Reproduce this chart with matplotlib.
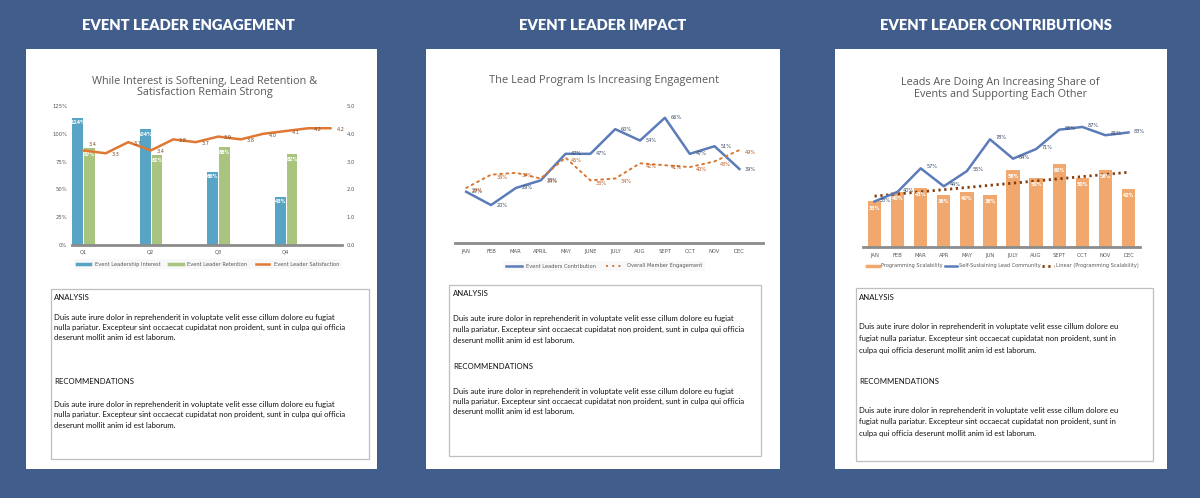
import matplotlib.pyplot as plt
import numpy as np
from matplotlib.patches import Rectangle
from matplotlib.lines import Line2D

W, H = 1200, 498

# panel 1 - engagement
quarters = ['Q1', 'Q2', 'Q3', 'Q4']
interest = [114, 104, 66, 43]
retention = [87, 81, 88, 82]
satisfaction = [3.4, 3.3, 3.7, 3.4, 3.8, 3.7, 3.9, 3.8, 4.0, 4.1, 4.2, 4.2]

# panel 2 - impact
months_impact = ['JAN', 'FEB', 'MAR', 'APRIL', 'MAY', 'JUNE', 'JULY', 'AUG', 'SEPT', 'OCT', 'NOV', 'DEC']
leader_contrib = [27, 20, 29, 33, 47, 47, 60, 54, 66, 47, 51, 39]
member_engage = [29, 36, 37, 34, 45, 33, 34, 42, 41, 40, 43, 49]

# panel 3 - contributions
months_contrib = ['JAN', 'FEB', 'MAR', 'APR', 'MAY', 'JUN', 'JULY', 'AUG', 'SEPT', 'OCT', 'NOV', 'DEC']
prog_scal = [33, 40, 43, 38, 40, 38, 56, 50, 60, 50, 56, 42]
lead_comm = [33, 40, 57, 44, 55, 78, 64, 71, 85, 87, 81, 83]

headers = ['EVENT LEADER ENGAGEMENT', 'EVENT LEADER IMPACT', 'EVENT LEADER CONTRIBUTIONS']

para_1 = ['Duis aute irure dolor in reprehenderit in voluptate velit esse cillum dolore eu fugiat',
          'nulla pariatur. Excepteur sint occaecat cupidatat non proident, sunt in culpa qui officia',
          'deserunt mollit anim id est laborum.']
para_3 = ['Duis aute irure dolor in reprehenderit in voluptate velit esse cillum dolore eu',
          'fugiat nulla pariatur. Excepteur sint occaecat cupidatat non proident, sunt in',
          'culpa qui officia deserunt mollit anim id est laborum.']

bg = '#405d8c'
c_blue = '#58a4c4'
c_green = '#a9c47f'
c_orange = '#e07834'
c_line = '#5b7cb8'
c_dot = '#d9772f'
c_bar3 = '#f0a86e'
c_trend = '#843c0c'
gray = '#595959'


def rect(x0, y0, x1, y1):
    return [x0 / W, 1 - y1 / H, (x1 - x0) / W, (y1 - y0) / H]


def fx(x):
    return x / W


def fy(y):
    return 1 - y / H


fig = plt.figure(figsize=(12, 4.98), dpi=100, facecolor=bg)

# white panels + text boxes
panels = [(26, 49, 377, 469), (426, 49, 780, 469), (835, 49, 1167, 469)]
boxes = [(51, 289, 369, 459), (449, 285, 761, 456), (856, 288, 1153, 461)]
for (x0, y0, x1, y1) in panels:
    fig.add_artist(Rectangle((fx(x0), fy(y1)), (x1 - x0) / W, (y1 - y0) / H,
                             transform=fig.transFigure, fc='white', ec='none', zorder=0))
for (x0, y0, x1, y1) in boxes:
    fig.add_artist(Rectangle((fx(x0), fy(y1)), (x1 - x0) / W, (y1 - y0) / H,
                             transform=fig.transFigure, fc='white', ec='#bfbfbf', lw=0.9, zorder=1))

for hx, s in zip([188, 603, 996], headers):
    fig.text(fx(hx), fy(26), s, ha='center', va='center', color='white',
             fontsize=10.6, fontweight='heavy', family='Lato')


def text_block(x, ys, lines):
    for y, s in zip(ys, lines):
        fig.text(fx(x), fy(y), s, fontsize=5.6, family='Lato', va='center', color='#111111')


text_block(54, [297], ['ANALYSIS'])
text_block(54, [317, 327.5, 338], para_1)
text_block(54, [381], ['RECOMMENDATIONS'])
text_block(54, [404, 414.5, 425], para_1)

text_block(453, [293], ['ANALYSIS'])
text_block(453, [319, 329.5, 340], para_1)
text_block(453, [366], ['RECOMMENDATIONS'])
text_block(453, [391, 401.5, 412], para_1)

text_block(859, [298], ['ANALYSIS'])
text_block(859, [327, 338.5, 350], para_3)
text_block(859, [381], ['RECOMMENDATIONS'])
text_block(859, [410, 421.5, 433], para_3)


def clean(ax):
    for s in ['top', 'right', 'left']:
        ax.spines[s].set_visible(False)
    ax.spines['bottom'].set_color('#8c8c8c')
    ax.spines['bottom'].set_linewidth(2)
    ax.tick_params(length=0, labelsize=3.8, labelcolor=gray)
    ax.set_facecolor('none')


# ---- chart 1
fig.text(fx(205), fy(87), 'While Interest is Softening, Lead Retention &\nSatisfaction Remain Strong',
         ha='center', va='center', fontsize=7.8, color=gray, family='Open Sans', linespacing=1.1)
ax = fig.add_axes(rect(72, 106, 342, 245))
clean(ax)
months = np.arange(12)
qpos = np.array([0, 3, 6, 9])
ax.bar(qpos - 0.25, interest, width=0.48, color=c_blue)
ax.bar(qpos + 0.28, retention, width=0.48, color=c_green)
for xp, v in zip(qpos - 0.25, interest):
    ax.text(xp, v - 2, f'{v}%', ha='center', va='top', color='white', fontsize=3.4, fontweight='bold')
for xp, v in zip(qpos + 0.28, retention):
    ax.text(xp, v - 3, f'{v}%', ha='center', va='top', color='white', fontsize=3.4, fontweight='bold')
ax.set_xlim(-0.5, 11.5)
ax.set_ylim(0, 125)
ax.set_yticks([0, 25, 50, 75, 100, 125])
ax.set_yticklabels(['0%', '25%', '50%', '75%', '100%', '125%'])
ax.set_xticks(qpos)
ax.set_xticklabels(quarters)
ax.tick_params(axis='x', pad=3)
ax2 = ax.twinx()
ax2.plot(months, satisfaction, color=c_orange, lw=1.8, solid_capstyle='round')
for xp, v in zip(months, satisfaction):
    dy = 4 if xp == 0 else -1
    ax2.annotate(f'{v:.1f}', (xp, v), xytext=(4, dy), textcoords='offset points',
                 fontsize=3.6, color='#7a4a26', va='center', ha='left')
ax2.set_ylim(0, 5)
ax2.set_yticks(np.arange(0, 5.1, 1))
ax2.set_yticklabels([f'{t:.1f}' for t in np.arange(0, 5.1, 1)])
for s in ['top', 'right', 'left', 'bottom']:
    ax2.spines[s].set_visible(False)
ax2.tick_params(length=0, labelsize=3.8, labelcolor=gray)

h1 = [Line2D([], [], color=c_blue, lw=2.5), Line2D([], [], color=c_green, lw=2.5),
      Line2D([], [], color=c_orange, lw=1.8)]
leg = fig.legend(h1, ['Event Leadership Interest', 'Event Leader Retention', 'Event Leader Satisfaction'],
                 loc='center', bbox_to_anchor=(fx(208), fy(264)), ncol=3, fontsize=3.7,
                 frameon=True, handlelength=2.6, columnspacing=1.8, borderpad=0.5)
leg.get_frame().set_facecolor('#f7f7f7')
leg.get_frame().set_edgecolor('none')
for t in leg.get_texts():
    t.set_color(gray)

# ---- chart 2
fig.text(fx(604), fy(81), 'The Lead Program Is Increasing Engagement',
         ha='center', va='center', fontsize=7.9, color=gray, family='Open Sans')
ax = fig.add_axes(rect(455, 95, 763, 243))
clean(ax)
ax.plot(months, leader_contrib, color=c_line, lw=1.8)
ax.plot(months, member_engage, color=c_dot, lw=1.4, ls=(0, (1, 2.2)), dash_capstyle='round')
for xp, v in zip(months, leader_contrib):
    ax.annotate(f'{v}%', (xp, v), xytext=(4, 0), textcoords='offset points',
                fontsize=3.6, color='#3b4a66', va='center', ha='left')
for xp, v in zip(months, member_engage):
    ax.annotate(f'{v}%', (xp, v), xytext=(4, -2), textcoords='offset points',
                fontsize=3.6, color='#b0541c', va='center', ha='left')
ax.set_xlim(-0.45, 11.95)
ax.set_ylim(0, 78)
ax.set_yticks([])
ax.set_xticks(months)
ax.set_xticklabels(months_impact)
ax.tick_params(axis='x', pad=4)
h2 = [Line2D([], [], color=c_line, lw=1.8), Line2D([], [], color=c_dot, lw=1.4, ls=(0, (1, 2.2)))]
leg = fig.legend(h2, ['Event Leaders Contribution', 'Overall Member Engagement'],
                 loc='center', bbox_to_anchor=(fx(604), fy(266)), ncol=2, fontsize=3.7,
                 frameon=True, handlelength=3.2, columnspacing=2, borderpad=0.5)
leg.get_frame().set_facecolor('#f7f7f7')
leg.get_frame().set_edgecolor('none')
for t in leg.get_texts():
    t.set_color(gray)

# ---- chart 3
fig.text(fx(1000), fy(88.5), 'Leads Are Doing An Increasing Share of\nEvents and Supporting Each Other',
         ha='center', va='center', fontsize=7.8, color=gray, family='Open Sans', linespacing=1.1)
ax = fig.add_axes(rect(863, 109, 1140, 247))
clean(ax)
ax.bar(months, prog_scal, width=0.58, color=c_bar3)
for xp, v in zip(months, prog_scal):
    ax.text(xp, v - 3, f'{v}%', ha='center', va='top', color='white', fontsize=3.4, fontweight='bold')
coef = np.polyfit(months, prog_scal, 1)
ax.plot(months, np.polyval(coef, months), color=c_trend, lw=2, ls=(0, (0.8, 1.3)))
ax.plot(months, lead_comm, color=c_line, lw=1.8)
for xp, v in zip(months, lead_comm):
    ax.annotate(f'{v}%', (xp, v), xytext=(4, 1), textcoords='offset points',
                fontsize=3.6, color='#3b4a66', va='center', ha='left')
ax.set_xlim(-0.5, 11.5)
ax.set_ylim(0, 100)
ax.set_yticks([])
ax.set_xticks(months)
ax.set_xticklabels(months_contrib)
ax.tick_params(axis='x', pad=4)
h3 = [Line2D([], [], color=c_bar3, lw=2.5), Line2D([], [], color=c_line, lw=1.8),
      Line2D([], [], color=c_trend, lw=2, ls=(0, (0.8, 1.3)))]
leg = fig.legend(h3, ['Programming Scalability', 'Self-Sustaining Lead Community', 'Linear (Programming Scalability)'],
                 loc='center', bbox_to_anchor=(fx(1003), fy(266)), ncol=3, fontsize=3.6,
                 frameon=False, handlelength=2.4, columnspacing=0.4, handletextpad=0.4)
for t in leg.get_texts():
    t.set_color(gray)

fig.savefig('out.png', dpi=100, facecolor=bg)
